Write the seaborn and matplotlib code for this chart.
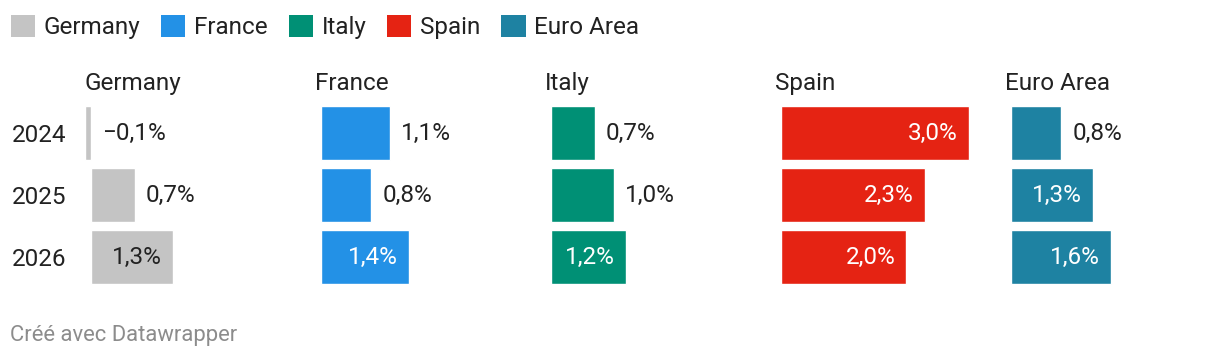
import pandas as pd
import matplotlib.pyplot as plt
import seaborn as sns
from matplotlib.patches import Patch

# données
countries = ['Germany', 'France', 'Italy', 'Spain', 'Euro Area']
years = ['2024', '2025', '2026']
germany = [-0.1, 0.7, 1.3]
france = [1.1, 0.8, 1.4]
italy = [0.7, 1.0, 1.2]
spain = [3.0, 2.3, 2.0]
euro_area = [0.8, 1.3, 1.6]
colors = ['#c4c4c4', '#2391e6', '#009075', '#e52313', '#1e82a2']

series = [germany, france, italy, spain, euro_area]
df = pd.DataFrame([
    {'country': c, 'year': y, 'value': v}
    for c, vals in zip(countries, series)
    for y, v in zip(years, vals)
])

sns.set_style('white')
plt.rcParams['font.family'] = ['Roboto', 'DejaVu Sans']
TXT = '#222222'
FS = 17.5

W, H = 1220, 362
fig = plt.figure(figsize=(W / 100, H / 100), dpi=100)

px_per_unit = 62.7
xmin, xmax = -0.1, 3.3
zeros = [91, 321, 551, 781, 1011]
top, bottom = 102, 288

for i, (country, col) in enumerate(zip(countries, colors)):
    left = zeros[i] + xmin * px_per_unit
    width = (xmax - xmin) * px_per_unit
    ax = fig.add_axes([left / W, 1 - bottom / H, width / W, (bottom - top) / H])
    sub = df[df['country'] == country]
    sns.barplot(data=sub, x='value', y='year', orient='h', color=col,
                width=0.855, saturation=1, ax=ax, order=years)
    ax.set_xlim(xmin, xmax)
    ax.set_ylim(2.5, -0.5)
    ax.set_xlabel('')
    ax.set_ylabel('')
    ax.set_xticks([])
    sns.despine(ax=ax, left=True, bottom=True)
    ax.text(0.0, 1.04, country, transform=ax.transAxes, fontsize=FS,
            color=TXT, ha='left', va='bottom')
    if i == 0:
        ax.set_yticks(range(3), labels=years)
        ax.tick_params(axis='y', length=0, pad=(left - 12) * 0.72, labelsize=FS,
                       labelcolor=TXT)
        for t in ax.get_yticklabels():
            t.set_ha('left')
    else:
        ax.set_yticks([])

    for j, v in enumerate(sub['value']):
        lab = f'{v:.1f}%'.replace('.', ',').replace('-', '\u2212')
        if v >= 1.2:
            tc = TXT if country == 'Germany' else 'white'
            ax.annotate(lab, (v, j), xytext=(-8, 0), textcoords='offset points',
                        ha='right', va='center', fontsize=FS, color=tc)
        else:
            ax.annotate(lab, (max(v, 0), j), xytext=(8, 0), textcoords='offset points',
                        ha='left', va='center', fontsize=FS, color=TXT)

handles = [Patch(facecolor=c, edgecolor='none') for c in colors]
fig.legend(handles, countries, loc='center left', bbox_to_anchor=(1 / W, 1 - 27 / H),
           ncol=5, frameon=False, fontsize=FS, handlelength=1.0, handleheight=1.0,
           handletextpad=0.36, columnspacing=0.85, labelcolor=TXT, borderaxespad=0)

fig.text(10 / W, 1 - 336 / H, 'Créé avec Datawrapper', fontsize=15.8,
         color='#8c8c8c', ha='left', va='center')

fig.savefig('out.png', dpi=100)
